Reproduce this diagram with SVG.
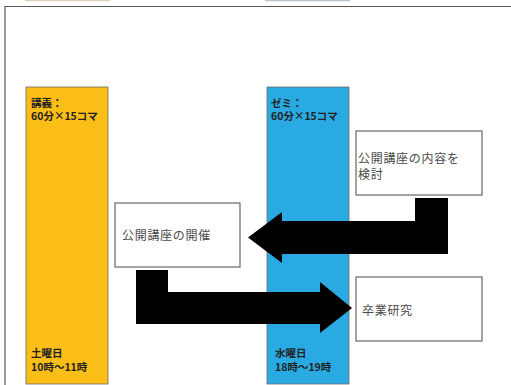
<svg xmlns="http://www.w3.org/2000/svg" width="511" height="385" viewBox="0 0 511 385">
<style>
.frame{fill:none;stroke:#555;stroke-width:1.2}
.col{stroke:#6b6b6b;stroke-width:0.8}
.box{fill:#fff;stroke:#6e6460;stroke-width:1.2}
.arrow{fill:#000}
.lbl{font-family:"Noto Sans CJK JP","Noto Sans",sans-serif;font-weight:bold;font-size:10.5px;fill:#222}
.txt{font-family:"Noto Sans CJK JP","Noto Sans",sans-serif;font-size:12px;letter-spacing:0.7px;fill:#4a4a4a}
</style>
<rect width="511" height="385" fill="#fff"/>
<g id="frame">
<line x1="25" y1="0.5" x2="110" y2="0.5" stroke="#e0d2b8" stroke-width="1.5"/>
<line x1="265" y1="0.5" x2="350" y2="0.5" stroke="#b9c4cc" stroke-width="1.5"/>
<path class="frame" d="M5 385 V6.5 H511"/>
</g>
<g id="lecture">
<rect class="col" x="26" y="87" width="82" height="297" fill="#FBBE16"/>
<text class="lbl" x="31" y="106.5">講義：</text>
<text class="lbl" x="31" y="120">60分×15コマ</text>
<text class="lbl" x="31" y="357">土曜日</text>
<text class="lbl" x="31" y="370.5">10時～11時</text>
</g>
<g id="seminar">
<rect class="col" x="267" y="87" width="82" height="297" fill="#2AAAE2"/>
<text class="lbl" x="271" y="106.5">ゼミ：</text>
<text class="lbl" x="271" y="120">60分×15コマ</text>
<text class="lbl" x="275" y="357">水曜日</text>
<text class="lbl" x="275" y="370.5">18時～19時</text>
</g>
<g id="connectors">
<path class="arrow" d="M448 198 V254 H282 V263 L248 237.5 L282 212 V221 H415 V198 Z"/>
<path class="arrow" d="M136 270 H168 V292 H320 V282 L352 308 L320 333 V324 H136 Z"/>
</g>
<g id="review">
<rect class="box" x="356" y="131" width="126" height="64"/>
<text class="txt" x="358" y="163">公開講座の内容を</text>
<text class="txt" x="358" y="178.5">検討</text>
</g>
<g id="hold">
<rect class="box" x="115" y="203" width="125" height="64"/>
<text class="txt" x="122" y="240">公開講座の開催</text>
</g>
<g id="thesis">
<rect class="box" x="356" y="277" width="126" height="64"/>
<text class="txt" x="362" y="315">卒業研究</text>
</g>
</svg>
